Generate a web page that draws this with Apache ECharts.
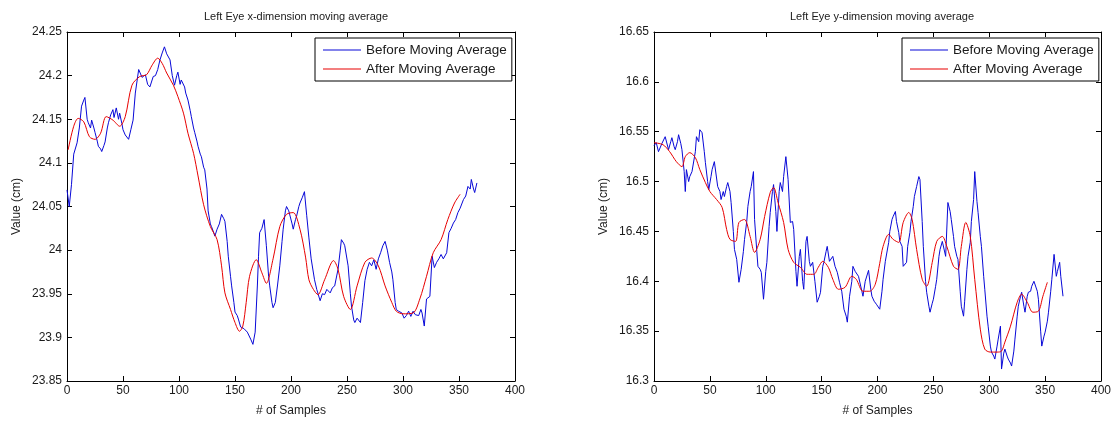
<!DOCTYPE html>
<html>
<head>
<meta charset="utf-8">
<script src="https://cdn.jsdelivr.net/npm/echarts@6/dist/echarts.min.js"></script>
<style>html,body{margin:0;padding:0;background:#fff;}#c{width:1117px;height:422px;}</style>
</head>
<body>
<div id="c"></div>
<script>
// [sample, value] pairs
const leftBefore = [[0,24.069],[2,24.05],[4,24.075],[6,24.11],[9,24.123],[11,24.14],[13,24.165],[15,24.172],[16,24.175],[18,24.15],[19,24.146],[21,24.14],[22,24.149],[24,24.14],[25,24.135],[27,24.125],[28,24.119],[30,24.116],[31,24.113],[33,24.12],[34,24.124],[36,24.14],[37,24.146],[39,24.155],[41,24.161],[42,24.152],[44,24.163],[46,24.15],[47,24.157],[49,24.145],[50,24.138],[52,24.132],[55,24.127],[57,24.138],[59,24.149],[61,24.18],[64,24.207],[65,24.209],[67,24.198],[70,24.201],[72,24.19],[74,24.187],[77,24.199],[79,24.2],[81,24.207],[83,24.218],[85,24.226],[87,24.233],[89,24.225],[92,24.218],[94,24.2],[96,24.189],[98,24.2],[99,24.204],[101,24.19],[102,24.195],[105,24.187],[106,24.18],[108,24.172],[110,24.16],[111,24.153],[113,24.14],[114,24.135],[116,24.125],[117,24.119],[119,24.11],[120,24.107],[122,24.095],[123,24.092],[125,24.07],[126,24.045],[128,24.03],[129,24.027],[131,24.02],[132,24.016],[134,24.024],[136,24.03],[138,24.041],[140,24.036],[141,24.033],[143,24.01],[144,23.993],[146,23.97],[147,23.959],[149,23.94],[150,23.929],[152,23.925],[153,23.921],[155,23.912],[156,23.913],[158,23.91],[159,23.909],[161,23.906],[162,23.904],[164,23.898],[166,23.892],[168,23.906],[170,23.96],[171,23.993],[172,24.02],[174,24.025],[176,24.035],[178,24.005],[180,23.97],[181,23.959],[183,23.94],[184,23.934],[186,23.94],[188,23.96],[190,23.982],[192,24.01],[193,24.024],[195,24.045],[196,24.05],[198,24.045],[199,24.043],[201,24.03],[202,24.024],[204,24.035],[205,24.039],[207,24.05],[208,24.054],[210,24.06],[212,24.067],[214,24.04],[216,24.014],[218,23.99],[221,23.966],[223,23.955],[226,23.942],[228,23.95],[230,23.949],[232,23.955],[235,23.951],[237,23.957],[239,23.959],[242,23.978],[244,24.0],[245,24.012],[247,24.008],[248,24.005],[251,23.982],[253,23.95],[254,23.936],[256,23.92],[257,23.917],[259,23.922],[262,23.917],[264,23.94],[266,23.965],[268,23.978],[270,23.986],[272,23.982],[274,23.989],[276,23.978],[278,23.99],[280,23.997],[282,24.005],[284,24.01],[286,24.0],[288,23.986],[290,23.975],[291,23.966],[293,23.94],[294,23.932],[296,23.93],[299,23.928],[301,23.922],[303,23.925],[305,23.93],[307,23.924],[309,23.93],[311,23.926],[314,23.925],[316,23.932],[317,23.928],[319,23.913],[321,23.944],[324,23.947],[326,23.993],[328,23.98],[330,23.986],[332,23.99],[334,23.995],[336,23.99],[339,23.997],[341,24.02],[343,24.025],[345,24.031],[347,24.035],[349,24.043],[351,24.048],[354,24.058],[356,24.062],[358,24.073],[360,24.07],[361,24.081],[363,24.07],[364,24.066],[366,24.077]];
const leftAfter = [[1,24.115],[6,24.142],[10,24.151],[15,24.147],[20,24.13],[25,24.127],[30,24.134],[35,24.153],[41,24.149],[47,24.142],[52,24.153],[58,24.189],[65,24.199],[71,24.201],[76,24.212],[81,24.22],[85,24.214],[89,24.203],[95,24.189],[99,24.176],[104,24.157],[108,24.134],[113,24.111],[117,24.085],[122,24.052],[128,24.027],[134,24.012],[138,23.982],[141,23.951],[146,23.932],[150,23.917],[154,23.907],[157,23.913],[160,23.94],[163,23.97],[169,23.989],[174,23.974],[178,23.962],[184,23.99],[190,24.027],[196,24.041],[202,24.043],[208,24.024],[213,23.992],[216,23.966],[220,23.955],[224,23.949],[230,23.966],[238,23.988],[242,23.978],[247,23.947],[253,23.932],[259,23.959],[266,23.986],[272,23.991],[278,23.982],[284,23.959],[290,23.94],[294,23.93],[300,23.927],[309,23.928],[315,23.944],[321,23.97],[327,23.997],[334,24.012],[340,24.035],[346,24.054],[351,24.064]];
const rightBefore = [[0,16.536],[2,16.539],[4,16.53],[5,16.532],[7,16.538],[8,16.54],[10,16.545],[11,16.547],[13,16.532],[15,16.54],[16,16.544],[18,16.535],[19,16.532],[21,16.54],[22,16.547],[24,16.538],[25,16.532],[27,16.51],[28,16.49],[29,16.512],[31,16.5],[32,16.505],[34,16.51],[35,16.512],[37,16.53],[38,16.545],[40,16.54],[41,16.552],[43,16.549],[45,16.53],[46,16.519],[48,16.5],[49,16.492],[51,16.505],[52,16.512],[54,16.52],[55,16.522],[57,16.495],[59,16.49],[60,16.482],[62,16.49],[63,16.485],[65,16.495],[66,16.499],[68,16.49],[69,16.479],[71,16.45],[72,16.432],[74,16.422],[76,16.399],[78,16.412],[80,16.43],[81,16.442],[83,16.46],[84,16.475],[86,16.49],[87,16.495],[89,16.51],[90,16.462],[92,16.43],[93,16.415],[95,16.412],[96,16.409],[98,16.382],[100,16.41],[101,16.419],[103,16.455],[104,16.469],[106,16.49],[107,16.497],[109,16.47],[110,16.45],[112,16.49],[113,16.499],[115,16.49],[116,16.505],[118,16.525],[120,16.502],[122,16.459],[124,16.46],[125,16.452],[127,16.41],[128,16.395],[130,16.425],[131,16.432],[133,16.4],[134,16.392],[136,16.44],[137,16.445],[139,16.42],[140,16.415],[142,16.419],[144,16.4],[146,16.379],[148,16.385],[149,16.389],[151,16.415],[152,16.419],[154,16.43],[155,16.435],[157,16.42],[158,16.422],[160,16.425],[162,16.415],[164,16.409],[166,16.399],[168,16.39],[170,16.372],[172,16.365],[173,16.359],[175,16.385],[177,16.4],[178,16.415],[180,16.41],[181,16.412],[183,16.405],[184,16.405],[186,16.39],[187,16.385],[189,16.4],[192,16.411],[194,16.392],[195,16.385],[197,16.38],[199,16.377],[202,16.372],[204,16.39],[205,16.402],[207,16.42],[210,16.439],[211,16.45],[213,16.462],[214,16.465],[216,16.47],[217,16.46],[219,16.449],[220,16.44],[222,16.435],[223,16.415],[226,16.419],[227,16.435],[229,16.449],[230,16.46],[232,16.475],[233,16.485],[235,16.495],[237,16.505],[238,16.502],[240,16.46],[241,16.435],[243,16.4],[244,16.389],[246,16.375],[247,16.369],[249,16.378],[250,16.382],[252,16.395],[253,16.402],[255,16.425],[256,16.432],[258,16.44],[259,16.439],[261,16.425],[263,16.479],[265,16.47],[266,16.462],[268,16.445],[269,16.435],[271,16.425],[272,16.422],[274,16.39],[275,16.375],[277,16.365],[278,16.38],[280,16.412],[281,16.425],[283,16.439],[284,16.46],[286,16.482],[287,16.51],[289,16.48],[290,16.469],[292,16.445],[293,16.435],[295,16.405],[296,16.392],[298,16.365],[299,16.355],[301,16.335],[302,16.329],[304,16.325],[305,16.322],[307,16.335],[308,16.342],[310,16.355],[311,16.312],[313,16.328],[314,16.332],[316,16.325],[317,16.322],[319,16.318],[320,16.315],[322,16.33],[323,16.342],[325,16.365],[326,16.375],[328,16.385],[329,16.389],[331,16.375],[332,16.369],[334,16.385],[335,16.389],[337,16.39],[338,16.395],[340,16.4],[341,16.402],[343,16.39],[344,16.382],[346,16.35],[347,16.335],[349,16.345],[350,16.349],[352,16.36],[353,16.369],[355,16.39],[356,16.402],[358,16.427],[360,16.405],[361,16.41],[363,16.419],[364,16.405],[366,16.385]];
const rightAfter = [[0,16.539],[8,16.537],[14,16.53],[20,16.52],[25,16.515],[28,16.525],[32,16.529],[37,16.524],[41,16.512],[46,16.499],[50,16.49],[56,16.482],[61,16.474],[65,16.452],[68,16.442],[73,16.44],[76,16.459],[81,16.462],[86,16.445],[90,16.429],[95,16.442],[99,16.465],[104,16.489],[107,16.494],[111,16.479],[116,16.459],[120,16.432],[125,16.419],[131,16.414],[137,16.407],[143,16.407],[147,16.414],[151,16.42],[156,16.414],[160,16.402],[165,16.392],[171,16.394],[177,16.405],[181,16.402],[187,16.39],[193,16.39],[198,16.397],[202,16.418],[205,16.435],[210,16.447],[214,16.442],[219,16.439],[223,16.459],[228,16.469],[231,16.462],[235,16.432],[240,16.402],[244,16.395],[249,16.419],[253,16.44],[258,16.445],[262,16.435],[268,16.415],[272,16.412],[275,16.435],[279,16.459],[283,16.445],[287,16.402],[292,16.352],[296,16.332],[301,16.329],[307,16.329],[311,16.33],[314,16.339],[319,16.355],[325,16.379],[329,16.387],[334,16.379],[339,16.369],[344,16.37],[348,16.385],[352,16.399]];

const titles = ['Left Eye x-dimension moving average', 'Left Eye y-dimension moving average'];
const seriesNames = ['Before Moving Average', 'After Moving Average'];
const xTicks = {min: 0, max: 400, interval: 50};
const leftY = {min: 23.85, max: 24.25, interval: 0.05};
const rightY = {min: 16.3, max: 16.65, interval: 0.05};
const xName = '# of Samples';
const yName = 'Value (cm)';

const FONT = 'Liberation Sans';
const TXT = '#1a1a1a';
const BLUE = '#0808d8';
const RED = '#e80000';
const grids = [
  {left: 67, top: 32, width: 448, height: 350},
  {left: 654, top: 32, width: 447, height: 350}
];
function xAxes(gi) {
  const base = {type: 'value', gridIndex: gi, min: xTicks.min, max: xTicks.max, interval: xTicks.interval,
    axisLine: {show: true, onZero: false, lineStyle: {color: '#000', width: 1}},
    axisTick: {show: true, inside: true, length: 5, lineStyle: {color: '#000'}},
    splitLine: {show: false}};
  return [
    Object.assign({}, base, {position: 'bottom', name: xName, nameLocation: 'middle', nameGap: 24,
      nameTextStyle: {fontFamily: FONT, fontSize: 12, color: TXT},
      axisLabel: {fontFamily: FONT, fontSize: 12, color: TXT, margin: 4}}),
    Object.assign({}, base, {position: 'top', axisLabel: {show: false}})
  ];
}
function yAxes(gi, r) {
  const base = {type: 'value', gridIndex: gi, min: r.min, max: r.max, interval: r.interval,
    axisLine: {show: true, onZero: false, lineStyle: {color: '#000', width: 1}},
    axisTick: {show: true, inside: true, length: 5, lineStyle: {color: '#000'}},
    splitLine: {show: false}};
  return [
    Object.assign({}, base, {position: 'left', name: yName, nameLocation: 'middle', nameGap: 44, nameRotate: 90,
      nameTextStyle: {fontFamily: FONT, fontSize: 12, color: TXT},
      axisLabel: {fontFamily: FONT, fontSize: 12, color: TXT, margin: 5}}),
    Object.assign({}, base, {position: 'right', axisLabel: {show: false}})
  ];
}
const legendBase = {orient: 'vertical', data: seriesNames, icon: 'rect', itemWidth: 38, itemHeight: 1,
  itemGap: 5, backgroundColor: '#fff', borderColor: '#000', borderWidth: 1, padding: [5, 5, 5, 8],
  textStyle: {fontFamily: FONT, fontSize: 13.5, color: TXT}, selectedMode: false};

const option = {
  animation: false,
  backgroundColor: '#fff',
  title: [
    {text: titles[0], left: 291, top: 6, textAlign: 'center', textStyle: {fontFamily: FONT, fontSize: 11, fontWeight: 'normal', color: TXT}},
    {text: titles[1], left: 877, top: 6, textAlign: 'center', textStyle: {fontFamily: FONT, fontSize: 11, fontWeight: 'normal', color: TXT}}
  ],
  legend: [
    Object.assign({}, legendBase, {left: 315, top: 38}),
    Object.assign({}, legendBase, {left: 902, top: 38})
  ],
  grid: grids,
  xAxis: xAxes(0).concat(xAxes(1)),
  yAxis: yAxes(0, leftY).concat(yAxes(1, rightY)),
  series: [
    {name: seriesNames[0], type: 'line', xAxisIndex: 0, yAxisIndex: 0, data: leftBefore, showSymbol: false, symbol: 'none', lineStyle: {color: BLUE, width: 1}, itemStyle: {color: BLUE}},
    {name: seriesNames[1], type: 'line', xAxisIndex: 0, yAxisIndex: 0, data: leftAfter, showSymbol: false, symbol: 'none', smooth: 0.3, lineStyle: {color: RED, width: 1}, itemStyle: {color: RED}},
    {name: seriesNames[0], type: 'line', xAxisIndex: 2, yAxisIndex: 2, data: rightBefore, showSymbol: false, symbol: 'none', lineStyle: {color: BLUE, width: 1}, itemStyle: {color: BLUE}},
    {name: seriesNames[1], type: 'line', xAxisIndex: 2, yAxisIndex: 2, data: rightAfter, showSymbol: false, symbol: 'none', smooth: 0.3, lineStyle: {color: RED, width: 1}, itemStyle: {color: RED}}
  ]
};
const chart = echarts.init(document.getElementById('c'), null, {renderer: 'canvas'});
chart.setOption(option);
</script>
</body>
</html>
